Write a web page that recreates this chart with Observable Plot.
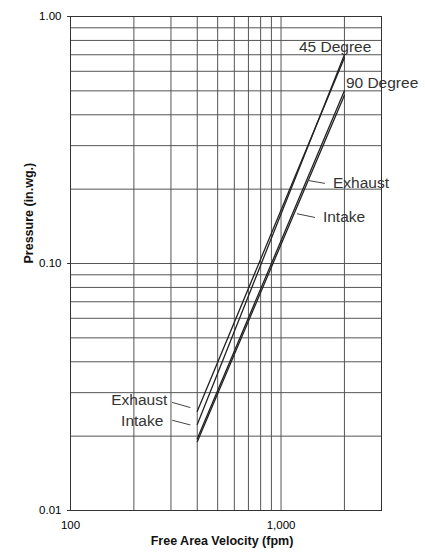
<!DOCTYPE html>
<html>
<head>
<meta charset="utf-8">
<script src="https://cdn.jsdelivr.net/npm/d3@7"></script>
<script src="https://cdn.jsdelivr.net/npm/@observablehq/plot@0.6"></script>
<style>
  html, body { margin: 0; padding: 0; background: #fff; }
  #chart svg { font-family: "Liberation Sans", Arial, sans-serif; display: block; }
</style>
</head>
<body>
<div id="chart"></div>
<script>
// Free area velocity (fpm) at the ends of each curve
const velocity = [400, 2000];
// Pressure (in.wg.) per series
const exhaust45 = [0.0252, 0.68];
const intake45 = [0.0223, 0.70];
const exhaust90 = [0.0195, 0.50];
const intake90 = [0.0190, 0.48];

// Axis ticks and grid
const xTicks = [100, 1000];
const yTicks = [0.01, 0.1, 1];
const xGrid = [100, 200, 300, 400, 500, 600, 700, 800, 900, 1000, 2000, 3000];
const yGrid = [0.01, 0.02, 0.03, 0.04, 0.05, 0.06, 0.07, 0.08, 0.09,
               0.1, 0.2, 0.3, 0.4, 0.5, 0.6, 0.7, 0.8, 0.9, 1];

// Annotation labels (data coordinates)
const labelText = ["45 Degree", "90 Degree", "Exhaust", "Intake", "Exhaust", "Intake"];
const labelX = [1216, 2032, 1764, 1581, 288, 276];
const labelY = [0.749, 0.536, 0.211, 0.1536, 0.0279, 0.0231];
const labelAnchor = ["start", "start", "start", "start", "end", "end"];

// Leader lines (data coordinates)
const leaderX1 = [1616, 1449, 304, 304];
const leaderY1 = [0.211, 0.1536, 0.0274, 0.0232];
const leaderX2 = [1343, 1191, 371, 371];
const leaderY2 = [0.2169, 0.159, 0.0261, 0.0222];

const seriesDefs = [
  ["45 Degree Exhaust", exhaust45],
  ["45 Degree Intake", intake45],
  ["90 Degree Exhaust", exhaust90],
  ["90 Degree Intake", intake90]
];
const lineData = seriesDefs.flatMap(([name, vals]) =>
  velocity.map((v, i) => ({series: name, x: v, y: vals[i]})));
const labels = labelText.map((t, i) => ({text: t, x: labelX[i], y: labelY[i], anchor: labelAnchor[i]}));
const leaders = leaderX1.map((_, i) => ({x1: leaderX1[i], y1: leaderY1[i], x2: leaderX2[i], y2: leaderY2[i]}));

const chart = Plot.plot({
  width: 425,
  height: 552,
  marginLeft: 70,
  marginRight: 44,
  marginTop: 16,
  marginBottom: 42,
  style: {fontFamily: '"Liberation Sans", Arial, sans-serif', background: "#fff"},
  x: {type: "log", domain: [100, 3000]},
  y: {type: "log", domain: [0.01, 1]},
  marks: [
    Plot.gridX(xGrid, {stroke: "#555", strokeOpacity: 1, strokeWidth: 1}),
    Plot.gridY(yGrid, {stroke: "#555", strokeOpacity: 1, strokeWidth: 1}),
    Plot.frame({stroke: "#333"}),
    Plot.axisY(yTicks, {tickFormat: d => d.toFixed(2), tickSize: 3, tickPadding: 6, fontSize: 11.5, label: null, stroke: "#333"}),
    Plot.axisX(xTicks, {tickFormat: d3.format(","), tickSize: 0, tickPadding: 10, fontSize: 11.5, label: null}),
    Plot.line(lineData, {x: "x", y: "y", z: "series", stroke: "#222", strokeWidth: 1.3}),
    Plot.link(leaders, {x1: "x1", y1: "y1", x2: "x2", y2: "y2", stroke: "#444", strokeWidth: 1}),
    Plot.text(labels.filter(d => d.anchor === "start"), {x: "x", y: "y", text: "text", textAnchor: "start", fontSize: 15.5, fill: "#333"}),
    Plot.text(labels.filter(d => d.anchor === "end"), {x: "x", y: "y", text: "text", textAnchor: "end", fontSize: 15.5, fill: "#333"}),
    Plot.text(["Pressure (in.wg.)"], {frameAnchor: "left", dx: -42, rotate: -90, text: d => d, fontSize: 12.5, fontWeight: "bold", fill: "#111"}),
    Plot.text(["Free Area Velocity (fpm)"], {frameAnchor: "bottom", dy: 34, dx: -4, text: d => d, fontSize: 12.5, fontWeight: "bold", fill: "#111"})
  ]
});
document.getElementById("chart").appendChild(chart);
</script>
</body>
</html>
